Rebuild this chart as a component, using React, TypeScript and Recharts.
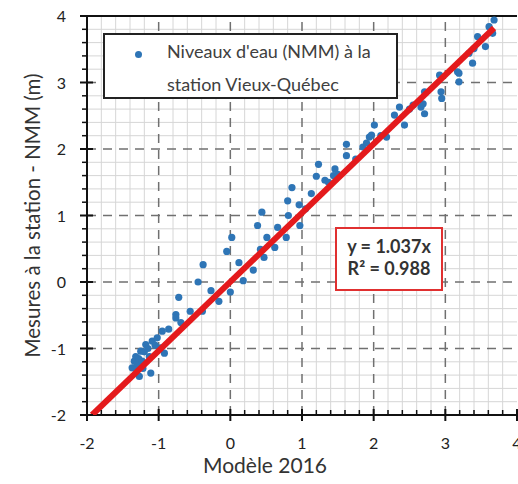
import React from "react";
import {
  ComposedChart,
  Scatter,
  XAxis,
  YAxis,
  ReferenceLine,
} from "recharts";

// Modèle 2016 (x) vs mesures à la station (y), NMM en mètres
const modelX = [
  -1.37, -1.34, -1.32, -1.3, -1.3, -1.28, -1.27, -1.25, -1.23, -1.22, -1.2, -1.18,
  -1.15, -1.13, -1.11, -1.09, -1.05, -1.02, -0.97, -0.95, -0.92, -0.86, -0.76,
  -0.76, -0.72, -0.69, -0.56, -0.45, -0.39, -0.38, -0.27, -0.16, -0.05, 0.0, 0.02,
  0.12, 0.18, 0.32, 0.38, 0.42, 0.44, 0.47, 0.51, 0.62, 0.66, 0.78, 0.8, 0.81,
  0.86, 0.96, 0.97, 1.05, 1.13, 1.2, 1.23, 1.32, 1.37, 1.44, 1.46, 1.5, 1.62, 1.62,
  1.75, 1.85, 1.9, 1.94, 1.97, 2.01, 2.1, 2.18, 2.29, 2.36, 2.43, 2.5, 2.55, 2.66,
  2.69, 2.71, 2.71, 2.92, 2.94, 2.95, 3.17, 3.19, 3.19, 3.33, 3.38, 3.4, 3.45,
  3.56, 3.61, 3.66, 3.68,
];
const measuredY = [
  -1.29, -1.19, -1.12, -1.27, -1.22, -1.15, -1.42, -1.04, -1.19, -1.3, -1.05, -0.94,
  -1.0, -1.12, -1.37, -0.89, -0.95, -0.84, -0.99, -0.74, -1.07, -0.71, -0.49,
  -0.54, -0.23, -0.61, -0.44, 0.0, -0.44, 0.26, -0.13, -0.29, 0.46, -0.15, 0.67,
  0.29, 0.02, 0.18, 0.85, 0.49, 1.05, 0.37, 0.67, 0.52, 0.82, 0.67, 1.22, 1.0,
  1.42, 1.16, 0.85, 1.1, 1.33, 1.59, 1.77, 1.53, 1.5, 1.6, 1.7, 1.62, 1.9, 2.07,
  1.85, 2.03, 2.09, 2.18, 2.21, 2.36, 2.2, 2.18, 2.51, 2.63, 2.36, 2.6, 2.66, 2.63,
  2.68, 2.53, 2.86, 3.11, 2.86, 2.76, 3.16, 3.01, 3.14, 3.44, 3.29, 3.51, 3.69,
  3.54, 3.84, 3.74, 3.94,
];

// droite de tendance y = 1.037x (extrémités)
const trendX = [-1.93, 3.68];
const trendY = [-2, 3.82];

const majorTicks = [-2, -1, 0, 1, 2, 3, 4];
const minorTicks: number[] = [];
for (let i = 0; i < majorTicks.length - 1; i++) {
  for (let k = 1; k < 5; k++) minorTicks.push(Math.round((majorTicks[i] + k * 0.2) * 10) / 10);
}
const allTicks = [...majorTicks, ...minorTicks].sort((a, b) => a - b);

const points = modelX.map((x, i) => ({ x, y: measuredY[i] }));
const trend = trendX.map((x, i) => ({ x, y: trendY[i] }));

const FONT = "Lato, 'Liberation Sans', sans-serif";
const isMajor = (v: number) => Math.abs(v - Math.round(v)) < 1e-6;

function XTick(props: any) {
  const { x, y, payload } = props;
  const major = isMajor(payload.value);
  return (
    <g>
      {major ? (
        <line x1={x} x2={x} y1={y - 6} y2={y + 6} stroke="#111" strokeWidth={2} />
      ) : (
        <line x1={x} x2={x} y1={y - 5} y2={y} stroke="#111" strokeWidth={1.5} />
      )}
      {major && (
        <text x={x} y={y + 34} textAnchor="middle" fontSize={16} fill="#222" fontFamily={FONT}>
          {payload.value}
        </text>
      )}
    </g>
  );
}

function YTick(props: any) {
  const { x, y, payload } = props;
  const major = isMajor(payload.value);
  return (
    <g>
      {major ? (
        <line x1={x - 7} x2={x + 6} y1={y} y2={y} stroke="#111" strokeWidth={2} />
      ) : (
        <line x1={x - 5} x2={x} y1={y} y2={y} stroke="#111" strokeWidth={1.5} />
      )}
      {major && (
        <text x={x - 21} y={y + 6} textAnchor="end" fontSize={16} fill="#222" fontFamily={FONT}>
          {payload.value}
        </text>
      )}
    </g>
  );
}

export default function App() {
  return (
    <div style={{ position: "absolute", left: 0, top: 0, width: 518, height: 484, background: "#fff", fontFamily: FONT }}>
      <ComposedChart width={518} height={484} margin={{ top: 16, right: 1, bottom: 39, left: 0 }}>
        <XAxis
          type="number"
          dataKey="x"
          domain={[-2, 4]}
          ticks={allTicks}
          interval={0}
          allowDataOverflow
          height={30}
          tickSize={0}
          tickMargin={0}
          tickLine={false}
          axisLine={{ stroke: "#111", strokeWidth: 2 }}
          tick={<XTick />}
        />
        <YAxis
          type="number"
          dataKey="y"
          domain={[-2, 4]}
          ticks={allTicks}
          interval={0}
          allowDataOverflow
          width={87}
          tickSize={0}
          tickMargin={0}
          tickLine={false}
          axisLine={{ stroke: "#111", strokeWidth: 2 }}
          tick={<YTick />}
          label={{
            value: "Mesures à la station - NMM (m)",
            angle: -90,
            position: "insideLeft",
            dx: 28,
            dy: 0,
            style: { textAnchor: "middle", fontSize: 20.5, fill: "#333", fontFamily: FONT },
          }}
        />
        {minorTicks.map((v) => (
          <ReferenceLine key={"mx" + v} x={v} stroke="#d6d6d6" strokeWidth={1} />
        ))}
        {minorTicks.map((v) => (
          <ReferenceLine key={"my" + v} y={v} stroke="#d6d6d6" strokeWidth={1} />
        ))}
        {majorTicks.slice(1, -1).map((v) => (
          <ReferenceLine key={"Mx" + v} x={v} stroke="#707070" strokeWidth={1.5} strokeDasharray="9 7" />
        ))}
        {majorTicks.slice(1, -1).map((v) => (
          <ReferenceLine key={"My" + v} y={v} stroke="#707070" strokeWidth={1.5} strokeDasharray="9 7" />
        ))}
        <ReferenceLine y={4} stroke="#111" strokeWidth={2} />
        <Scatter
          data={points}
          fill="#2e75b6"
          isAnimationActive={false}
          shape={(p: any) => <circle cx={p.cx} cy={p.cy} r={3.6} fill="#2e75b6" />}
        />
        <Scatter
          data={trend}
          line={{ stroke: "#e41a1c", strokeWidth: 6 }}
          isAnimationActive={false}
          shape={() => <g />}
        />
      </ComposedChart>

      <div
        style={{
          position: "absolute",
          left: 6,
          width: 518,
          top: 452,
          textAlign: "center",
          fontSize: 21,
          color: "#333",
        }}
      >
        Modèle 2016
      </div>

      <div
        style={{
          position: "absolute",
          left: 103,
          top: 33,
          width: 291,
          height: 62,
          border: "2px solid #222",
          background: "#fff",
          fontSize: 18,
          color: "#404040",
          lineHeight: "33px",
        }}
      >
        <span
          style={{
            position: "absolute",
            left: 30,
            top: 16,
            width: 7,
            height: 7,
            borderRadius: "50%",
            background: "#2e75b6",
          }}
        />
        <div style={{ position: "absolute", left: 62, top: 0, whiteSpace: "nowrap" }}>
          Niveaux d'eau (NMM) à la
          <br />
          station Vieux-Québec
        </div>
      </div>

      <div
        style={{
          position: "absolute",
          left: 335,
          top: 227,
          width: 104,
          height: 54,
          border: "2px solid #e03030",
          background: "#fff",
          fontSize: 18,
          fontWeight: 700,
          color: "#333",
          textAlign: "center",
          lineHeight: "22px",
          paddingTop: 6,
          boxSizing: "content-box",
        }}
      >
        y = 1.037x
        <br />
        R² = 0.988
      </div>
    </div>
  );
}
